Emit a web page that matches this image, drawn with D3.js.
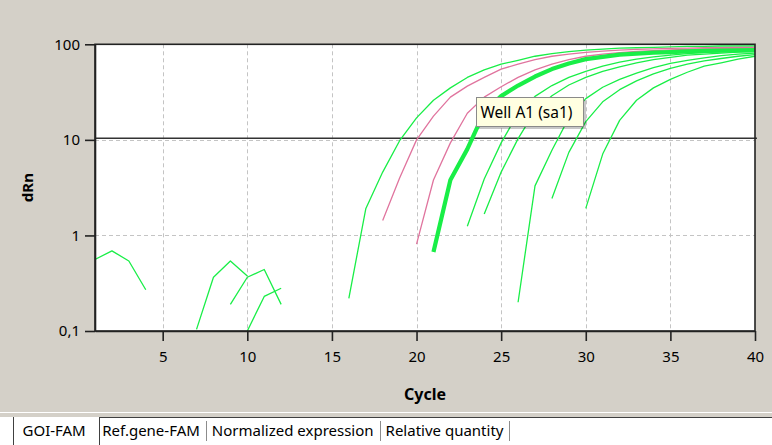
<!DOCTYPE html>
<html lang="en">
<head>
<meta charset="UTF-8" />
<title>dRn</title>
<script src="https://cdn.jsdelivr.net/npm/d3@7"></script>
<style>
  body { margin: 0; background: #d4d0c8; }
  svg { display: block; }
  text { font-family: "Noto Sans", sans-serif; fill: #000; }
</style>
</head>
<body>
<svg width="772" height="445"></svg>
<script>
const _ = null;
const cycles = [1,2,3,4,5,6,7,8,9,10,11,12,13,14,15,16,17,18,19,20,
                21,22,23,24,25,26,27,28,29,30,31,32,33,34,35,36,37,38,39,40];

// dRn per cycle (null = not drawn on log scale)
const wellA1 = [_,_,_,_,_, _,_,_,_,_, _,_,_,_,_, _,_,_,_,_, 0.67,3.8,8.0,19.5,28.7,37,46,55,63,70,74,78,80,82,83,84.5,85.5,86,86.5,87];
const wellB1 = [_,_,_,_,_, _,_,_,_,_, _,_,_,_,_, 0.22,1.9,4.6,9.8,17,26,35,45,54,62,68,75,80,84,87,89,91,92,93,94,95,95,96,96,96];
const wellC1 = [_,_,_,_,_, _,_,_,_,_, _,_,_,_,_, _,_, 1.43,4.0,10.0,17.7,28,36.5,45,55,62,69,75,79,82.5,85,87,88.5,89.5,90.5,91,92,92,93,93];
const wellD1 = [_,_,_,_,_, _,_,_,_,_, _,_,_,_,_, _,_,_,_, 0.81,3.8,9.3,19,28,36,45,54,62,69,75,79,82,84.5,86,87.5,88.5,89.5,90,90.5,91];
const wellE1 = [_,_,_,_,_, _, 0.104,0.365,0.54,0.376, _,_,_,_,_, _,_,_,_,_, _,_, 1.25,3.9,9.3,19,28.5,37,45,52,59,65,70,74,77,80,82,84,85,86];
const wellF1 = [_,_,_,_,_, _,_,_,_,_, _,_,_,_,_, _,_,_,_,_, _,_,_, 1.68,4.6,10.3,20,29,37.5,45,52,58,64,69,73,77,79,81,83,84];
const wellG1 = [0.56,0.69,0.54,0.27, _,_,_,_,_, _,_,_,_,_, _,_,_,_,_, _,_,_,_,_, _, 0.20,3.3,7.8,17,27,35.5,43,50,57,63,68,72,76,79,81];
const wellH1 = [_,_,_,_,_, _,_,_, 0.19,0.365,0.44,0.19, _,_,_,_,_, _,_,_,_,_, _,_,_,_,_, 2.44,7.4,15.5,25,33.5,41.5,49,56,62,67,71,75,78];
const wellI1 = [_,_,_,_,_, _,_,_,_, 0.1,0.23,0.28, _,_,_,_,_, _,_,_,_,_, _,_,_,_,_, _,_, 1.92,7.1,16,26,35,43,51,59,64,70,75];

const threshold = 10.4;
const xTicks = [5,10,15,20,25,30,35,40];
const yTicks = [0.1,1,10,100];
const yTickLabels = ["0,1","1","10","100"];
const tabs = ["GOI-FAM","Ref.gene-FAM","Normalized expression","Relative quantity"];
const tooltipText = "Well A1 (sa1)";

const green = "#19ee47", pink = "#e0749e";
const thin = [wellB1, wellE1, wellF1, wellG1, wellH1, wellI1];
const pinks = [wellC1, wellD1];

const svg = d3.select("svg");
const pLeft = 95, pRight = 755, pTop = 44.3, pBottom = 331;

const x = d3.scaleLinear().domain([1, 40]).range([pLeft, pRight]);
const y = d3.scaleLog().domain([0.1, 100]).range([pBottom, pTop]);

svg.append("rect").attr("width", 772).attr("height", 445).attr("fill", "#d4d0c8");
svg.append("rect").attr("x", pLeft).attr("y", pTop)
  .attr("width", pRight - pLeft).attr("height", pBottom - pTop).attr("fill", "#fff");

// dashed grid
const grid = svg.append("g").attr("stroke", "#c4c4c4").attr("stroke-dasharray", "4,3");
grid.selectAll(".gx").data(xTicks.slice(0, -1)).join("line")
  .attr("x1", d => Math.round(x(d)) + 0.5).attr("x2", d => Math.round(x(d)) + 0.5)
  .attr("y1", pTop).attr("y2", pBottom);
grid.selectAll(".gy").data([1, 10]).join("line")
  .attr("x1", pLeft).attr("x2", pRight)
  .attr("y1", d => Math.round(y(d)) + 0.5).attr("y2", d => Math.round(y(d)) + 0.5);

// threshold
svg.append("line")
  .attr("x1", pLeft).attr("x2", pRight + 2)
  .attr("y1", y(threshold)).attr("y2", y(threshold))
  .attr("stroke", "#333").attr("stroke-width", 1.6);

svg.append("clipPath").attr("id", "plot").append("rect")
  .attr("x", pLeft).attr("y", pTop).attr("width", pRight - pLeft).attr("height", pBottom - pTop);

const line = d3.line()
  .defined(d => d[1] != null)
  .x(d => x(d[0]))
  .y(d => y(d[1]));
const pts = vals => cycles.map((c, i) => [c, vals[i]]);

const curves = svg.append("g").attr("clip-path", "url(#plot)").attr("fill", "none")
  .attr("stroke-linejoin", "round");
curves.selectAll(".g").data(thin).join("path")
  .attr("d", d => line(pts(d))).attr("stroke", green).attr("stroke-width", 1.3);
curves.selectAll(".p").data(pinks).join("path")
  .attr("d", d => line(pts(d))).attr("stroke", pink).attr("stroke-width", 1.3);
curves.append("path").attr("d", line(pts(wellA1)))
  .attr("stroke", green).attr("stroke-width", 4.2);

// frame
svg.append("rect").attr("x", pLeft).attr("y", pTop)
  .attr("width", pRight - pLeft).attr("height", pBottom - pTop)
  .attr("fill", "none").attr("stroke", "#222").attr("stroke-width", 1.6);

// axes
const xAxis = d3.axisBottom(x).tickValues(xTicks).tickSize(10).tickSizeOuter(0).tickPadding(10);
const yAxis = d3.axisLeft(y).tickValues(yTicks).tickSize(10).tickSizeOuter(0).tickPadding(5)
  .tickFormat((d, i) => yTickLabels[i]);

const gx = svg.append("g").attr("transform", `translate(0,${pBottom})`).call(xAxis);
const gy = svg.append("g").attr("transform", `translate(${pLeft},0)`).call(yAxis);
[gx, gy].forEach(g => {
  g.selectAll("path, line").attr("stroke", "#222").attr("stroke-width", 1.6);
  g.selectAll("text").attr("font-family", "Noto Sans").attr("font-size", 15).attr("fill", "#000");
});

svg.append("text").attr("x", (pLeft + pRight) / 2).attr("y", 399.5)
  .attr("text-anchor", "middle").attr("font-weight", "bold").attr("font-size", 16)
  .text("Cycle");
svg.append("text").attr("transform", `translate(33,${(pTop + pBottom) / 2}) rotate(-90)`)
  .attr("text-anchor", "middle").attr("font-weight", "bold").attr("font-size", 15)
  .text("dRn");

// tooltip
const tip = svg.append("g").attr("transform", "translate(476,97)");
tip.append("rect").attr("x", 3).attr("y", 3).attr("width", 107).attr("height", 29)
  .attr("fill", "#000").attr("opacity", 0.22);
tip.append("rect").attr("x", 0.5).attr("y", 0.5).attr("width", 107).attr("height", 29)
  .attr("fill", "#ffffe1").attr("stroke", "#8a8a8a");
tip.append("text").attr("x", 4.5).attr("y", 20.5).attr("font-size", 15.5).text(tooltipText);

// tab strip
svg.append("line").attr("x1", 0).attr("x2", 772).attr("y1", 412.5).attr("y2", 412.5)
  .attr("stroke", "#fff");
svg.append("rect").attr("x", 0).attr("y", 417).attr("width", 772).attr("height", 28).attr("fill", "#fff");
const tabG = svg.append("g");
let tx = 22.5;
let firstEdge = 0;
tabs.forEach((t, i) => {
  const txt = tabG.append("text").attr("x", tx).attr("y", 435.5).attr("font-size", 15).text(t);
  const w = txt.node().getComputedTextLength();
  const sep = i === 0 ? tx + w + 13.5 : tx + w + 6;
  if (i === 0) {
    firstEdge = Math.round(sep) + 0.5;
    tabG.append("line").attr("x1", firstEdge).attr("x2", firstEdge).attr("y1", 417).attr("y2", 445)
      .attr("stroke", "#404040");
  } else {
    tabG.append("line").attr("x1", Math.round(sep) + 0.5).attr("x2", Math.round(sep) + 0.5)
      .attr("y1", 421).attr("y2", 441).attr("stroke", "#8c8c8c");
  }
  tx = sep + (i === 0 ? 3 : 6);
});
tabG.append("line").attr("x1", 13.5).attr("x2", 13.5).attr("y1", 417).attr("y2", 445).attr("stroke", "#404040");
tabG.append("line").attr("x1", firstEdge).attr("x2", 772).attr("y1", 417.5).attr("y2", 417.5).attr("stroke", "#404040");
</script>
</body>
</html>
